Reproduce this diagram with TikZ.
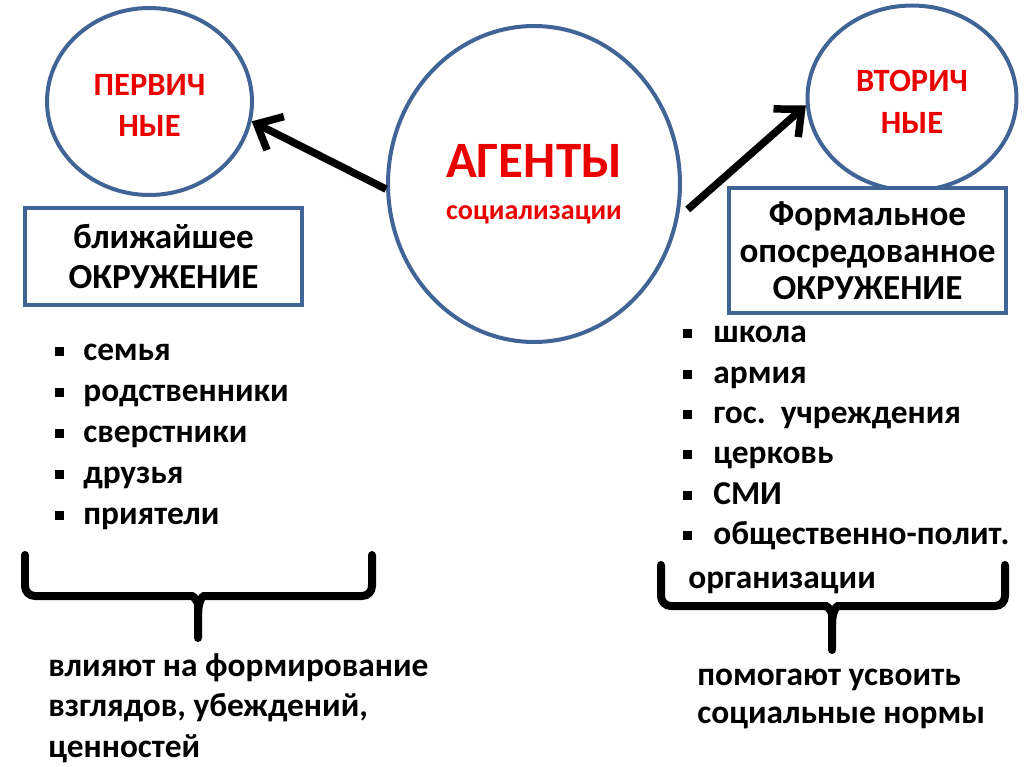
\documentclass[tikz,border=0pt]{standalone}
\usepackage{fontspec}
\setmainfont{Carlito}
\usetikzlibrary{shapes.geometric,arrows.meta}
\definecolor{ringblue}{RGB}{65,100,150}
\definecolor{titlered}{RGB}{235,0,0}
\begin{document}
\begin{tikzpicture}[x=0.02cm,y=-0.02cm,
  ring/.style={ellipse,draw=ringblue,line width=0.08cm,fill=white,inner sep=0pt,align=center,text=titlered,font=\bfseries\fontsize{18.5}{23.9}\selectfont},
  framebox/.style={rectangle,draw=ringblue,line width=0.08cm,fill=white,align=center,minimum width=5.54cm,font=\bfseries\fontsize{20}{22.8}\selectfont},
  push/.style={line width=0.15cm,-{Straight Barb[length=0.42cm,width=0.75cm]}},
  item/.style={anchor=base west,inner sep=0pt,font=\bfseries\fontsize{19}{22.8}\selectfont},
  brace/.style={line width=0.16cm,line cap=round,rounded corners=0.2cm}]
\useasboundingbox (0,0) rectangle (1024,767);

\node[ring,minimum width=4.1cm,minimum height=3.74cm] (prim) at (149.5,101.5) {\rule{0pt}{0.58cm}ПЕРВИЧ\\НЫЕ};
\node[ring,minimum width=4.18cm,minimum height=3.7cm] (sec) at (912,98) {\rule{0pt}{0.58cm}ВТОРИЧ\\НЫЕ};
\node[ring,minimum width=5.84cm,minimum height=6.32cm] (agents) at (534,184)
  {{\fontsize{29}{34}\selectfont АГЕНТЫ}\\[0pt]{\fontsize{16}{20}\selectfont социализации}};

\node[framebox,minimum height=1.94cm] (primbox) at (163.5,256.5) {ближайшее\\ОКРУЖЕНИЕ};
\node[framebox,minimum height=2.5cm,font=\bfseries\fontsize{20}{21}\selectfont] (secbox) at (867.5,250.5) {Формальное\\опосредованное\\ОКРУЖЕНИЕ};

\draw[push] (agents.182) -- (prim.-11);
\draw[push,shorten <=0.24cm] (agents.-13) -- (sec.184);

% lists
\foreach \t [count=\i] in {семья,родственники,сверстники,друзья,приятели}
  \node[item] (fam\i) at (55,{319+41*\i}) {\rule[0.09cm]{0.18cm}{0.18cm}\hspace{0.38cm}\t};
\foreach \t [count=\i] in {школа,армия,гос.\ \ учреждения,церковь,СМИ,общественно-полит.}
  \node[item] (inst\i) at (683,{302.5+40.3*\i}) {\rule[0.09cm]{0.18cm}{0.18cm}\hspace{0.42cm}\t};
\node[item] (org) at (688,588) {организации};

% braces
\draw[brace] (25,555) -- (25,596) -- (182,596) .. controls (194,596) and (198,603) .. (198,614) -- (198,638);
\draw[brace] (372,555) -- (372,596) -- (214,596) .. controls (202,596) and (198,603) .. (198,614);
\draw[brace] (661,565) -- (661,606) -- (816,606) .. controls (828,606) and (832,613) .. (832,624) -- (832,650);
\draw[brace] (1005,565) -- (1005,606) -- (848,606) .. controls (836,606) and (832,613) .. (832,624);

\node[item,align=left] (infl) at (48,757) {влияют на формирование\\взглядов, убеждений,\\ценностей};
\node[item,align=left,font=\bfseries\fontsize{19}{21.6}\selectfont] (norms) at (697,723) {помогают усвоить\\социальные нормы};
\end{tikzpicture}
\end{document}
